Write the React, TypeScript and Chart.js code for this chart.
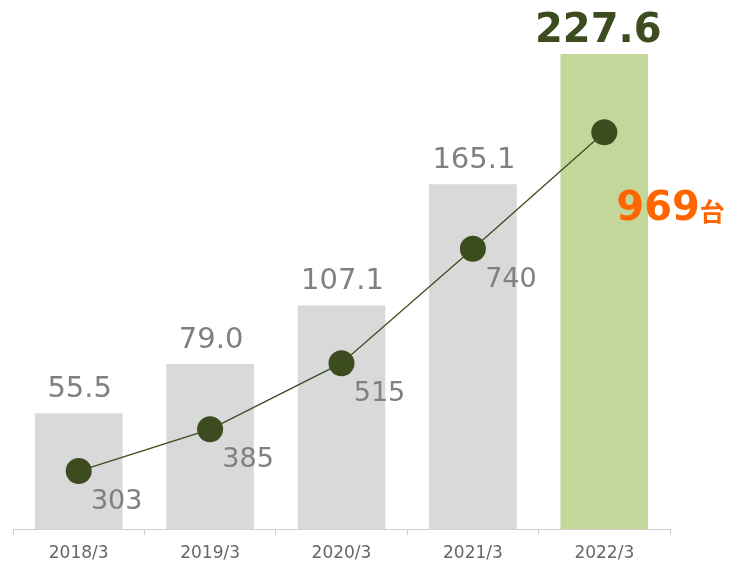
import React, { useEffect, useRef } from "react";
import { Chart, registerables } from "chart.js";

Chart.register(...registerables);

const categories = ["2018/3", "2019/3", "2020/3", "2021/3", "2022/3"];
const salesValues = [55.5, 79.0, 107.1, 165.1, 227.6];
const salesLabels = ["55.5", "79.0", "107.1", "165.1", "227.6"];
const unitValues = [303, 385, 515, 740, 969];
const unitSuffix = "台";

const GRAY_BAR = "#d9d9d9";
const GREEN_BAR = "#c4d79b";
const OLIVE = "#3d4c1f";
const LABEL_GRAY = "#808080";
const ORANGE = "#ff6600";
const FONT = "'DejaVu Sans', Verdana, sans-serif";

const labelPlugin = {
  id: "valueLabels",
  afterDatasetsDraw(chart: any) {
    const ctx = chart.ctx as CanvasRenderingContext2D;
    const barMeta = chart.getDatasetMeta(0);
    const lineMeta = chart.getDatasetMeta(1);
    const last = categories.length - 1;
    ctx.save();
    ctx.textBaseline = "alphabetic";
    barMeta.data.forEach((bar: any, i: number) => {
      ctx.textAlign = "center";
      if (i === last) {
        ctx.font = `bold 40px ${FONT}`;
        ctx.fillStyle = OLIVE;
        ctx.fillText(salesLabels[i], bar.x - 6, bar.y - 12);
      } else {
        ctx.font = `29px ${FONT}`;
        ctx.fillStyle = LABEL_GRAY;
        ctx.fillText(salesLabels[i], bar.x + 1, bar.y - 16);
      }
    });
    lineMeta.data.forEach((pt: any, i: number) => {
      if (i === last) {
        ctx.textAlign = "left";
        ctx.font = `bold 40px ${FONT}`;
        ctx.fillStyle = ORANGE;
        const txt = String(unitValues[i]);
        const x0 = pt.x + 12;
        const yb = pt.y + 88;
        ctx.fillText(txt, x0, yb);
        const w = ctx.measureText(txt).width;
        ctx.font = `bold 25px 'Noto Sans CJK JP', sans-serif`;
        ctx.fillText(unitSuffix, x0 + w, yb + 1);
      } else {
        ctx.textAlign = "center";
        ctx.font = `27px ${FONT}`;
        ctx.fillStyle = LABEL_GRAY;
        ctx.fillText(String(unitValues[i]), pt.x + 38, pt.y + 38);
      }
    });
    ctx.restore();
  },
};

export default function App() {
  const canvasRef = useRef<HTMLCanvasElement | null>(null);

  useEffect(() => {
    if (!canvasRef.current) return;
    const chart = new Chart(canvasRef.current, {
      type: "bar",
      data: {
        labels: categories,
        datasets: [
          {
            type: "bar",
            data: salesValues,
            backgroundColor: categories.map((_, i) =>
              i === categories.length - 1 ? GREEN_BAR : GRAY_BAR
            ),
            borderWidth: 0,
            categoryPercentage: 1,
            barPercentage: 0.667,
            yAxisID: "y",
            order: 2,
          } as any,
          {
            type: "line",
            data: unitValues,
            borderColor: OLIVE,
            borderWidth: 1.3,
            pointRadius: 13,
            pointHoverRadius: 13,
            pointBackgroundColor: OLIVE,
            pointBorderWidth: 0,
            tension: 0,
            clip: false,
            yAxisID: "y2",
            order: 1,
          } as any,
        ],
      },
      options: {
        responsive: false,
        animation: false,
        layout: { padding: { left: 10, right: 60, top: 28, bottom: 0 } },
        plugins: {
          legend: { display: false },
          tooltip: { enabled: false },
        },
        scales: {
          x: {
            grid: {
              display: true,
              drawOnChartArea: false,
              drawTicks: true,
              tickLength: 6,
              color: "#d0d0d0",
              offset: true,
            },
            border: { display: true, color: "#d0d0d0", width: 1 },
            ticks: {
              color: "#666666",
              font: { family: FONT, size: 17 },
              padding: 8,
            },
            afterFit: (scale: any) => {
              scale.height = 36;
              scale.paddingLeft = 0;
              scale.paddingRight = 0;
            },
          },
          y: {
            display: false,
            min: 0,
            max: 240,
          },
          y2: {
            display: false,
            min: 189,
            max: 1174,
          },
        },
      },
      plugins: [labelPlugin],
    });
    return () => chart.destroy();
  }, []);

  return (
    <div style={{ position: "absolute", left: 0, top: 0, width: 730, height: 565 }}>
      <canvas
        ref={canvasRef}
        width={730}
        height={565}
        style={{ display: "block", width: 730, height: 565 }}
      />
    </div>
  );
}
